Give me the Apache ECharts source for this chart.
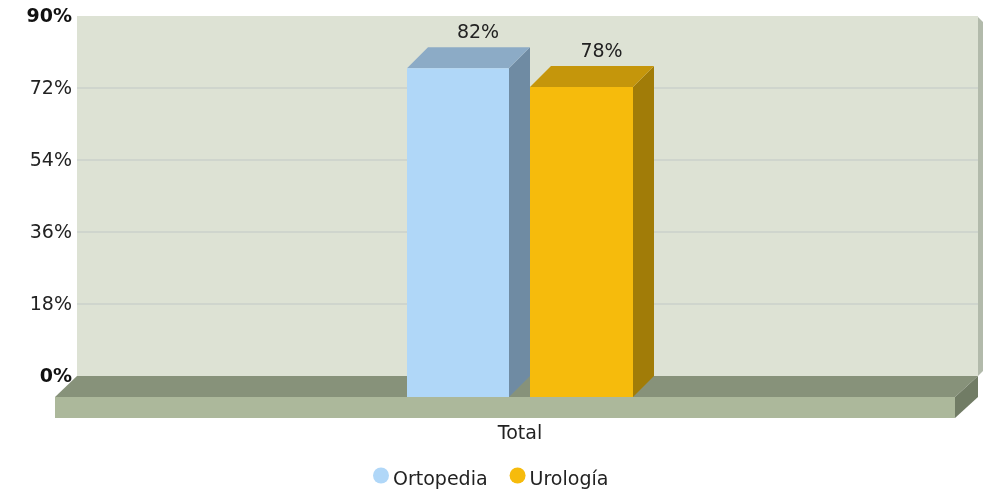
<!DOCTYPE html>
<html>
<head>
<meta charset="utf-8">
<style>
html, body { margin: 0; padding: 0; background: #fff; }
#chart { width: 989px; height: 494px; }
</style>
<script src="https://cdn.jsdelivr.net/npm/echarts@6/dist/echarts.min.js"></script>
</head>
<body>
<div id="chart"></div>
<script>
var categories = ['Total']
var ortopedia = [82.2]
var urologia = [77.5]
var seriesNames = ['Ortopedia', 'Urología']
var boldTicks = [0, 90]

var FONT = '"DejaVu Sans", Verdana, sans-serif'
var DEPTH = 21
var DEPTH_X = 22

// front face offsets of each bar, measured from the band centre of the back wall
var barLeft = [-120.5, 2.5]
var barWidth = [102, 103]
var barColors = [
    { front: '#b0d7f8', top: '#8cabc6', side: '#6f8ba3' },
    { front: '#f6bb0c', top: '#c5960b', side: '#a17c08' }
]

function poly (points, color) {
    return { type: 'polygon', shape: { points: points }, style: { fill: color } }
}

function renderFloor (params, api) {
    var g = params.coordSys
    var l = g.x
    var r = g.x + g.width
    var y0 = api.coord([0, 0])[1]
    return {
        type: 'group',
        children: [
            // thin shadow on the right of the wall
            poly([[r, g.y + 1], [r + 5, g.y + 6], [r + 5, y0 - 5], [r, y0]], '#b2baab'),
            poly([[l, y0], [r, y0], [r - DEPTH_X - 1, y0 + DEPTH], [l - DEPTH_X, y0 + DEPTH]], '#87927a'),
            poly([[l - DEPTH_X, y0 + DEPTH], [r - DEPTH_X - 1, y0 + DEPTH], [r - DEPTH_X - 1, y0 + DEPTH * 2], [l - DEPTH_X, y0 + DEPTH * 2]], '#acb89b'),
            poly([[r - DEPTH_X - 1, y0 + DEPTH], [r, y0], [r, y0 + DEPTH], [r - DEPTH_X - 1, y0 + DEPTH * 2]], '#717c65')
        ]
    }
}

function makeRenderBar (i) {
    return function (params, api) {
        var val = api.value(1)
        var cx = api.coord([0, 0])[0]
        var yBack = api.coord([0, val])[1]
        var y0 = api.coord([0, 0])[1]
        var x1 = cx + barLeft[i]
        var x2 = x1 + barWidth[i]
        var yTop = yBack + DEPTH
        var yBottom = y0 + DEPTH
        var c = barColors[i]
        return {
            type: 'group',
            children: [
                poly([[x2, yTop], [x2 + DEPTH, yBack], [x2 + DEPTH, y0], [x2, yBottom]], c.side),
                poly([[x1, yTop], [x1 + DEPTH, yBack], [x2 + DEPTH, yBack], [x2, yTop]], c.top),
                poly([[x1, yTop], [x2, yTop], [x2, yBottom], [x1, yBottom]], c.front),
                {
                    type: 'text',
                    x: (x1 + x2) / 2 + DEPTH - 1,
                    y: yBack - 14,
                    style: {
                        text: Math.round(val) + '%',
                        fill: '#222',
                        font: '19px ' + FONT,
                        textAlign: 'center',
                        textVerticalAlign: 'middle'
                    }
                }
            ]
        }
    }
}

var myChart = echarts.init(document.getElementById('chart'), null, { renderer: 'canvas' })

myChart.setOption({
    animation: false,
    backgroundColor: '#fff',
    textStyle: { fontFamily: FONT },
    grid: {
        show: true,
        left: 77,
        top: 16,
        width: 901,
        height: 360,
        backgroundColor: '#dde2d4',
        borderWidth: 0
    },
    legend: {
        data: seriesNames,
        left: 368,
        top: 461,
        icon: 'circle',
        itemWidth: 16,
        itemHeight: 16,
        itemGap: 22,
        formatter: function (name) {
            return '{s|}{t|' + name + '}'
        },
        textStyle: {
            color: '#222',
            fontSize: 19,
            fontFamily: FONT,
            padding: [0, 0, 0, -1],
            rich: {
                // empty spacer makes the line taller so the name sits lower than the dot
                s: { width: 0, height: 28 },
                t: { color: '#222', fontSize: 19, fontFamily: FONT, verticalAlign: 'bottom' }
            }
        }
    },
    xAxis: {
        type: 'category',
        data: categories,
        axisLine: { show: false },
        axisTick: { show: false },
        axisLabel: {
            color: '#222',
            fontSize: 19,
            fontFamily: FONT,
            margin: 49,
            padding: [0, 15, 0, 0]
        }
    },
    yAxis: {
        type: 'value',
        min: 0,
        max: 90,
        interval: 18,
        axisLine: { show: false },
        axisTick: { show: false },
        splitLine: {
            show: true,
            showMinLine: false,
            showMaxLine: false,
            lineStyle: { color: '#cfd5cd', width: 2 }
        },
        axisLabel: {
            margin: 5,
            fontFamily: FONT,
            padding: [3, 0, 0, 0],
            formatter: function (v) {
                return boldTicks.indexOf(v) >= 0 ? '{b|' + v + '%}' : '{n|' + v + '%}'
            },
            rich: {
                n: { color: '#222', fontSize: 19, fontFamily: FONT },
                b: { color: '#111', fontSize: 19, fontWeight: 'bold', fontFamily: FONT }
            }
        }
    },
    series: [
        {
            type: 'custom',
            name: 'floor',
            clip: false,
            silent: true,
            z: 1,
            renderItem: renderFloor,
            data: [[0, 0]]
        },
        {
            type: 'custom',
            name: seriesNames[0],
            clip: false,
            z: 2,
            itemStyle: { color: barColors[0].front },
            renderItem: makeRenderBar(0),
            data: ortopedia.map(function (v, i) { return [i, v] })
        },
        {
            type: 'custom',
            name: seriesNames[1],
            clip: false,
            z: 3,
            itemStyle: { color: barColors[1].front },
            renderItem: makeRenderBar(1),
            data: urologia.map(function (v, i) { return [i, v] })
        }
    ]
})
</script>
</body>
</html>
